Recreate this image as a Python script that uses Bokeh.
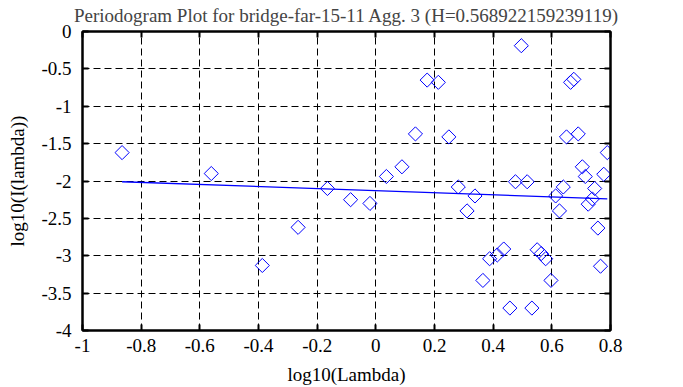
import math
from bokeh.plotting import figure
from bokeh.models import FixedTicker, LinearAxis, Range1d, Title
from bokeh.embed import file_html
from bokeh.resources import INLINE

# Periodogram points: log10(lambda) vs log10(I(lambda))
log_lambda = [-0.865, -0.561, -0.387, -0.265, -0.165, -0.086, -0.020, 0.036, 0.089,
              0.135, 0.175, 0.213, 0.249, 0.281, 0.311, 0.338, 0.365, 0.388, 0.414,
              0.436, 0.457, 0.476, 0.496, 0.516, 0.532, 0.550, 0.564, 0.579, 0.597,
              0.613, 0.626, 0.639, 0.650, 0.664, 0.675, 0.690, 0.704, 0.714, 0.724,
              0.738, 0.746, 0.757, 0.766, 0.777, 0.789]
log_I = [-1.62, -1.90, -3.13, -2.62, -2.10, -2.25, -2.30, -1.94, -1.81,
         -1.37, -0.65, -0.68, -1.41, -2.08, -2.40, -2.20, -3.33, -3.04, -2.99,
         -2.91, -3.70, -2.01, -0.19, -2.01, -3.70, -2.92, -2.97, -3.04, -3.33,
         -2.20, -2.40, -2.08, -1.41, -0.68, -0.64, -1.37, -1.81, -1.94, -2.31,
         -2.24, -2.10, -2.63, -3.14, -1.91, -1.62]

# Least-squares fit line endpoints
fit_x = [-0.865, 0.789]
fit_y = [-2.010, -2.238]

x_ticks = [-1, -0.8, -0.6, -0.4, -0.2, 0, 0.2, 0.4, 0.6, 0.8]
x_tick_labels = ["-1", "-0.8", "-0.6", "-0.4", "-0.2", "0", "0.2", "0.4", "0.6", "0.8"]
y_ticks = [-4, -3.5, -3, -2.5, -2, -1.5, -1, -0.5, 0]
y_tick_labels = ["-4", "-3.5", "-3", "-2.5", "-2", "-1.5", "-1", "-0.5", "0"]

title_text = "Periodogram Plot for bridge-far-15-11 Agg. 3 (H=0.568922159239119)"
FONT = "Liberation Serif"
FS = "19px"

p = figure(width=683, height=387, output_backend="svg", toolbar_location=None,
           x_range=Range1d(-1, 0.8), y_range=Range1d(-4, 0),
           x_axis_location=None, y_axis_location=None,
           min_border_left=82, min_border_right=73, min_border_top=31, min_border_bottom=56)

p.outline_line_color = "black"
p.outline_line_width = 2
p.background_fill_color = "white"
p.border_fill_color = "white"

p.line(fit_x, fit_y, line_color="#0000ff", line_width=1.3)
p.scatter(log_lambda, log_I, marker="square", angle=math.pi / 4, size=10,
          line_color="#0000ff", fill_color=None, line_width=1)


def style(ax):
    ax.axis_line_color = "black"
    ax.axis_line_width = 2
    ax.major_tick_in = 6
    ax.major_tick_out = 0
    ax.major_tick_line_color = "black"
    ax.major_tick_line_width = 2
    ax.minor_tick_line_color = None
    ax.major_label_text_font = FONT
    ax.major_label_text_font_size = FS
    ax.major_label_text_color = "black"
    ax.axis_label_text_font = FONT
    ax.axis_label_text_font_size = FS
    ax.axis_label_text_font_style = "normal"
    ax.axis_label_text_color = "black"


bottom = LinearAxis(ticker=FixedTicker(ticks=x_ticks), axis_label="log10(Lambda)",
                    major_label_overrides={t: l for t, l in zip(x_ticks, x_tick_labels)})
left = LinearAxis(ticker=FixedTicker(ticks=y_ticks), axis_label="log10(I(lambda))",
                  major_label_overrides={t: l for t, l in zip(y_ticks, y_tick_labels)})
top = LinearAxis(ticker=FixedTicker(ticks=x_ticks),
                 major_label_overrides={t: "" for t in x_ticks})
right = LinearAxis(ticker=FixedTicker(ticks=y_ticks),
                   major_label_overrides={t: "" for t in y_ticks})
for ax in (bottom, left, top, right):
    style(ax)
bottom.major_label_standoff = 8
bottom.axis_label_standoff = 9
left.major_label_standoff = 11
left.axis_label_standoff = 10
top.major_label_standoff = 0
right.major_label_standoff = 0
top.major_label_text_font_size = "2px"
right.major_label_text_font_size = "2px"

p.add_layout(bottom, "below")
p.add_layout(left, "left")
p.add_layout(top, "above")
p.add_layout(right, "right")

title = Title(text=title_text, text_font=FONT, text_font_size=FS, text_font_style="normal",
              align="center", vertical_align="top", standoff=8)
p.add_layout(title, "above")

p.xgrid.ticker = FixedTicker(ticks=x_ticks)
p.ygrid.ticker = FixedTicker(ticks=y_ticks)
for g in (p.xgrid[0], p.ygrid[0]):
    g.grid_line_color = "black"
    g.grid_line_width = 1
    g.grid_line_dash = "7 4"

open("out.html", "w").write(file_html(p, INLINE))
